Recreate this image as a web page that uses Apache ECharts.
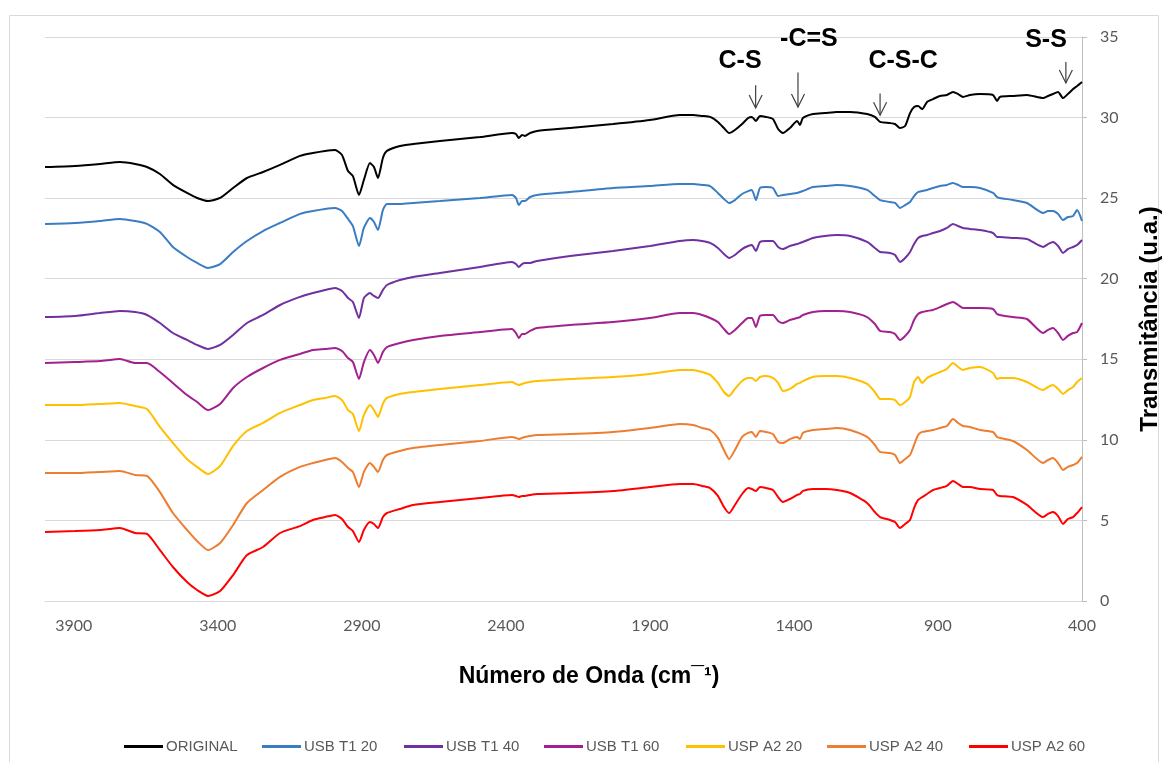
<!DOCTYPE html>
<html>
<head>
<meta charset="utf-8">
<script src="https://cdn.jsdelivr.net/npm/echarts/dist/echarts.min.js"></script>
<style>
  html, body { margin: 0; padding: 0; background: #ffffff; overflow: hidden; }
  #chart { width: 1164px; height: 762px; }
</style>
</head>
<body>
<div id="chart"></div>
<script>
// Wavenumber grid (cm-1) shared by all spectra
const waveNumbers = [
  4000, 3896, 3809, 3740, 3687, 3646, 3601, 3556, 3507, 3472,
  3434, 3392, 3347, 3299, 3243, 3184, 3115, 3070, 3028, 2993,
  2969, 2948, 2931, 2910, 2893, 2872, 2858, 2844, 2827, 2813,
  2768, 2722, 2629, 2490, 2379, 2365, 2355, 2344, 2334, 2316,
  2292, 2177, 2028, 1900, 1796, 1750, 1719, 1691, 1664, 1643,
  1625, 1605, 1580, 1559, 1546, 1532, 1518, 1497, 1473, 1455,
  1438, 1414, 1389, 1379, 1369, 1334, 1292, 1251, 1205, 1146,
  1119, 1101, 1067, 1049, 1032, 1014, 997, 983, 969, 955,
  938, 917, 893, 869, 848, 830, 813, 789, 754, 709,
  695, 685, 640, 591, 535, 518, 501, 483, 466, 449,
  431, 417, 400
];

// Transmittance (u.a.), vertically offset spectra
const original = [
  26.93, 27.00, 27.12, 27.24, 27.12, 26.93, 26.50, 25.82, 25.32, 25.01,
  24.82, 25.01, 25.63, 26.25, 26.62, 27.06, 27.62, 27.80, 27.93, 27.99,
  27.68, 26.68, 26.37, 25.20, 26.13, 27.18, 26.93, 26.25, 27.49, 27.93,
  28.24, 28.36, 28.55, 28.79, 29.04, 28.98, 28.73, 28.92, 28.86, 29.04,
  29.17, 29.35, 29.60, 29.85, 30.16, 30.16, 30.10, 30.04, 29.73, 29.35,
  29.04, 29.23, 29.60, 29.97, 30.04, 29.79, 30.10, 30.04, 29.91, 29.29,
  29.04, 29.35, 29.79, 29.54, 29.97, 30.22, 30.28, 30.35, 30.35, 30.22,
  30.04, 29.73, 29.66, 29.60, 29.35, 29.48, 30.28, 30.66, 30.72, 30.53,
  30.97, 31.15, 31.34, 31.40, 31.59, 31.46, 31.28, 31.40, 31.46, 31.40,
  31.03, 31.28, 31.34, 31.40, 31.21, 31.34, 31.46, 31.59, 31.21, 31.46,
  31.77, 31.96, 32.21
];
const usbT1_20 = [
  23.40, 23.46, 23.58, 23.71, 23.58, 23.40, 22.90, 21.97, 21.35, 20.98,
  20.67, 20.91, 21.66, 22.34, 22.96, 23.46, 24.02, 24.20, 24.33, 24.39,
  24.20, 23.71, 23.27, 22.03, 23.15, 23.77, 23.52, 23.02, 24.26, 24.64,
  24.64, 24.70, 24.82, 25.01, 25.20, 25.01, 24.57, 24.82, 24.82, 25.07,
  25.20, 25.38, 25.63, 25.75, 25.88, 25.88, 25.82, 25.75, 25.32, 24.95,
  24.70, 24.88, 25.26, 25.44, 25.51, 24.88, 25.63, 25.69, 25.63, 25.13,
  25.20, 25.26, 25.32, 25.38, 25.44, 25.69, 25.75, 25.82, 25.75, 25.51,
  25.13, 24.88, 24.76, 24.70, 24.39, 24.57, 24.76, 25.13, 25.38, 25.44,
  25.51, 25.63, 25.75, 25.82, 25.94, 25.82, 25.69, 25.69, 25.63, 25.32,
  25.07, 25.01, 24.88, 24.70, 24.08, 24.20, 24.20, 24.02, 23.64, 23.83,
  23.89, 24.26, 23.58
];
const usbT1_40 = [
  17.62, 17.69, 17.87, 18.00, 17.93, 17.75, 17.25, 16.63, 16.20, 15.89,
  15.64, 15.89, 16.51, 17.25, 17.75, 18.37, 18.87, 19.11, 19.30, 19.42,
  19.24, 18.80, 18.56, 17.56, 18.80, 19.11, 18.93, 18.80, 19.30, 19.61,
  19.92, 20.11, 20.35, 20.73, 21.04, 20.91, 20.73, 20.91, 20.98, 20.98,
  21.10, 21.41, 21.72, 22.03, 22.34, 22.40, 22.34, 22.22, 21.91, 21.53,
  21.29, 21.47, 21.84, 22.03, 22.09, 21.72, 22.28, 22.34, 22.34, 21.97,
  21.84, 22.03, 22.15, 22.22, 22.28, 22.53, 22.65, 22.71, 22.65, 22.28,
  21.91, 21.66, 21.60, 21.47, 21.04, 21.29, 21.66, 22.15, 22.53, 22.65,
  22.71, 22.84, 22.96, 23.15, 23.40, 23.27, 23.15, 23.09, 23.02, 22.84,
  22.59, 22.59, 22.53, 22.46, 21.97, 22.15, 22.28, 22.03, 21.60, 21.84,
  21.97, 22.09, 22.40
];
const usbT1_60 = [
  14.77, 14.83, 14.89, 15.02, 14.77, 14.77, 14.21, 13.53, 12.78, 12.35,
  11.85, 12.23, 13.22, 13.90, 14.46, 14.96, 15.33, 15.58, 15.64, 15.70,
  15.51, 15.08, 14.83, 13.78, 14.83, 15.58, 15.27, 14.77, 15.45, 15.76,
  16.01, 16.20, 16.45, 16.69, 16.88, 16.63, 16.32, 16.57, 16.57, 16.76,
  16.94, 17.13, 17.31, 17.56, 17.87, 17.87, 17.75, 17.56, 17.31, 16.88,
  16.57, 16.82, 17.25, 17.56, 17.56, 17.00, 17.69, 17.75, 17.75, 17.38,
  17.25, 17.44, 17.56, 17.62, 17.75, 17.93, 18.00, 18.00, 17.93, 17.62,
  17.19, 16.76, 16.69, 16.57, 16.20, 16.45, 16.82, 17.44, 17.81, 17.93,
  18.00, 18.06, 18.24, 18.43, 18.56, 18.37, 18.18, 18.18, 18.18, 18.12,
  17.81, 17.75, 17.62, 17.50, 16.63, 16.82, 16.94, 16.63, 16.20, 16.45,
  16.63, 16.69, 17.25
];
const uspA2_20 = [
  12.16, 12.16, 12.23, 12.29, 12.10, 11.91, 10.80, 9.81, 8.81, 8.32,
  7.88, 8.38, 9.62, 10.55, 11.05, 11.67, 12.16, 12.47, 12.60, 12.72,
  12.47, 11.85, 11.60, 10.55, 11.54, 12.16, 11.85, 11.42, 12.23, 12.60,
  12.85, 12.97, 13.16, 13.40, 13.59, 13.47, 13.40, 13.47, 13.53, 13.59,
  13.65, 13.78, 13.90, 14.09, 14.34, 14.34, 14.21, 14.03, 13.53, 12.97,
  12.72, 13.16, 13.65, 13.84, 13.84, 13.65, 13.90, 13.96, 13.84, 13.53,
  13.03, 13.16, 13.47, 13.53, 13.65, 13.90, 13.96, 13.96, 13.84, 13.47,
  12.97, 12.54, 12.54, 12.47, 12.16, 12.35, 12.66, 13.59, 13.90, 13.53,
  13.84, 14.03, 14.21, 14.40, 14.77, 14.52, 14.34, 14.46, 14.52, 14.15,
  13.78, 13.84, 13.84, 13.59, 13.09, 13.28, 13.40, 13.16, 12.85, 13.09,
  13.28, 13.59, 13.84
];
const uspA2_40 = [
  7.94, 7.94, 8.01, 8.07, 7.82, 7.76, 6.76, 5.46, 4.41, 3.72,
  3.16, 3.60, 4.72, 6.08, 6.89, 7.70, 8.32, 8.56, 8.75, 8.87,
  8.63, 8.25, 8.01, 7.07, 8.01, 8.56, 8.32, 8.01, 8.75, 9.06,
  9.31, 9.49, 9.68, 9.93, 10.18, 10.12, 10.05, 10.12, 10.18, 10.24,
  10.30, 10.36, 10.49, 10.74, 10.98, 10.92, 10.74, 10.61, 10.12, 9.37,
  8.81, 9.37, 10.18, 10.43, 10.49, 10.18, 10.55, 10.49, 10.36, 9.87,
  9.81, 10.05, 10.18, 10.05, 10.43, 10.61, 10.67, 10.74, 10.61, 10.18,
  9.68, 9.25, 9.18, 9.06, 8.56, 8.81, 9.06, 9.68, 10.30, 10.49,
  10.55, 10.61, 10.74, 10.86, 11.29, 11.05, 10.86, 10.80, 10.61, 10.49,
  10.18, 10.12, 9.93, 9.37, 8.56, 8.75, 8.87, 8.56, 8.13, 8.32,
  8.44, 8.56, 8.94
];
const uspA2_60 = [
  4.28, 4.34, 4.41, 4.53, 4.22, 4.16, 3.16, 2.11, 1.18, 0.68,
  0.31, 0.62, 1.61, 2.85, 3.35, 4.22, 4.65, 5.03, 5.21, 5.34,
  5.09, 4.59, 4.34, 3.66, 4.41, 4.90, 4.78, 4.53, 5.21, 5.46,
  5.71, 5.96, 6.14, 6.39, 6.58, 6.52, 6.45, 6.52, 6.52, 6.58,
  6.64, 6.70, 6.83, 7.07, 7.26, 7.26, 7.14, 7.01, 6.52, 5.83,
  5.46, 5.96, 6.64, 7.01, 6.95, 6.83, 7.07, 7.01, 6.89, 6.45,
  6.14, 6.33, 6.58, 6.64, 6.83, 6.95, 6.95, 6.89, 6.70, 6.08,
  5.52, 5.21, 5.03, 4.90, 4.53, 4.78, 5.03, 5.77, 6.27, 6.45,
  6.64, 6.89, 7.01, 7.14, 7.45, 7.26, 7.07, 7.07, 6.95, 6.89,
  6.58, 6.52, 6.45, 5.96, 5.21, 5.40, 5.52, 5.27, 4.78, 5.09,
  5.21, 5.46, 5.83
];

const seriesNames = ['ORIGINAL', 'USB T1 20', 'USB T1 40', 'USB T1 60', 'USP A2 20', 'USP A2 40', 'USP A2 60'];
const seriesValues = [original, usbT1_20, usbT1_40, usbT1_60, uspA2_20, uspA2_40, uspA2_60];
const seriesColors = ['#000000', '#3A7DC2', '#7030A0', '#A3218F', '#FFC000', '#ED7D31', '#FF0000'];

// Band assignments: label position and arrow (wavenumber, from -> to)
const bandLabels = ['C-S', '-C=S', 'C-S-C', 'S-S'];
const bandLabelWave = [1587, 1348, 1021, 525];
const bandLabelValue = [33.5, 34.85, 33.5, 34.8];
const arrowWave = [1533, 1386, 1101, 456];
const arrowFrom = [32.0, 32.8, 31.5, 33.45];
const arrowTo = [30.6, 30.65, 30.15, 32.15];

// Legend entries laid out in one row with a fixed pitch
const legendLeft = [119, 257, 399, 539, 681, 822, 964];

const chart = echarts.init(document.getElementById('chart'), null, { renderer: 'canvas' });

const lineSeries = seriesNames.map((name, i) => ({
  name: name,
  type: 'line',
  data: waveNumbers.map((w, j) => [w, seriesValues[i][j]]),
  showSymbol: false,
  symbol: 'none',
  smooth: 0.2,
  lineStyle: { width: 2, color: seriesColors[i] },
  itemStyle: { color: seriesColors[i] },
  emphasis: { disabled: true },
  z: 2
}));

const bandSeries = {
  type: 'custom',
  silent: true,
  z: 5,
  data: arrowWave.map((w, i) => [w, arrowFrom[i], arrowTo[i], bandLabelWave[i], bandLabelValue[i]]),
  encode: { x: 0, y: 1 },
  renderItem: function (params, api) {
    const i = params.dataIndex;
    const start = api.coord([api.value(0), api.value(1)]);
    const tip = api.coord([api.value(0), api.value(2)]);
    const lab = api.coord([api.value(3), api.value(4)]);
    return {
      type: 'group',
      children: [
        { type: 'line', shape: { x1: start[0], y1: start[1], x2: tip[0], y2: tip[1] },
          style: { stroke: '#404040', lineWidth: 1.2 } },
        { type: 'polyline', shape: { points: [[tip[0] - 6.5, tip[1] - 13], [tip[0], tip[1]], [tip[0] + 6.5, tip[1] - 13]] },
          style: { stroke: '#404040', lineWidth: 1.2, fill: 'none' } },
        { type: 'text', x: lab[0], y: lab[1],
          style: { text: bandLabels[i], fill: '#000000', align: 'center', verticalAlign: 'middle',
                   fontFamily: '"Liberation Sans", Arial, sans-serif', fontWeight: 'bold', fontSize: 25 } }
      ]
    };
  }
};

const legends = seriesNames.map((name, i) => ({
  data: [name],
  left: legendLeft[i],
  top: 734,
  icon: 'rect',
  itemWidth: 39,
  itemHeight: 3,
  selectedMode: false,
  textStyle: {
    color: '#595959', fontSize: 15, padding: [0, 0, 0, -2],
    fontFamily: '"Liberation Sans Narrow", "Liberation Sans", sans-serif'
  }
}));

chart.setOption({
  animation: false,
  backgroundColor: '#ffffff',
  grid: { left: 45, right: 82, top: 37, bottom: 161, outerBoundsMode: 'none', containLabel: false },
  xAxis: {
    type: 'value',
    inverse: true,
    min: 400,
    max: 4000,
    interval: 500,
    axisLine: { show: true, lineStyle: { color: '#D9D9D9', width: 1 } },
    axisTick: { show: false },
    splitLine: { show: false },
    axisLabel: {
      color: '#595959', fontSize: 16, fontFamily: 'Lato, "Open Sans", sans-serif',
      margin: 17, showMaxLabel: false, showMinLabel: true,
      formatter: function (v) { return String(v); }
    }
  },
  yAxis: {
    type: 'value',
    position: 'right',
    min: 0,
    max: 35,
    interval: 5,
    name: 'Transmitância (u.a.)',
    nameLocation: 'middle',
    nameRotate: 90,
    nameGap: 56,
    nameTextStyle: { color: '#000000', fontSize: 24, fontWeight: 'bold', fontFamily: '"Liberation Sans", Arial, sans-serif' },
    axisLine: { show: true, lineStyle: { color: '#BFBFBF', width: 1 } },
    axisTick: { show: true, inside: false, length: 5, lineStyle: { color: '#BFBFBF' } },
    splitLine: { show: true, lineStyle: { color: '#D9D9D9', width: 1 } },
    axisLabel: { color: '#595959', fontSize: 16, fontFamily: 'Lato, "Open Sans", sans-serif', margin: 18 }
  },
  legend: legends,
  graphic: [
    { type: 'rect', silent: true, z: -10,
      shape: { x: 9.5, y: 15.5, width: 1149, height: 760 },
      style: { fill: 'none', stroke: '#D9D9D9', lineWidth: 1 } },
    { type: 'text', silent: true, x: 589, y: 677,
      style: { text: 'Número de Onda (cm¯¹)', fill: '#000000', align: 'center', verticalAlign: 'middle',
               fontFamily: '"Liberation Sans", Arial, sans-serif', fontWeight: 'bold', fontSize: 23 } }
  ],
  series: lineSeries.concat([bandSeries])
});
</script>
</body>
</html>
